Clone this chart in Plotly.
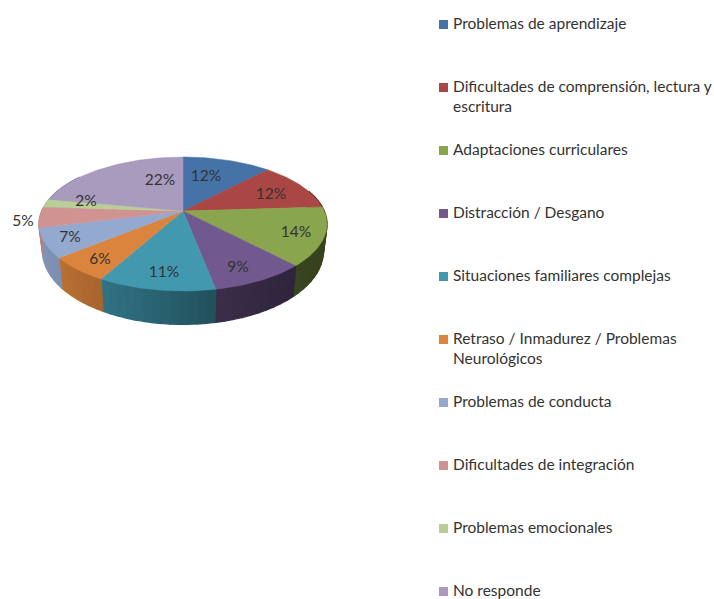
import math
import plotly.graph_objects as go

categories = ["Problemas de aprendizaje", "Dificultades de comprensión, lectura y<br>escritura",
              "Adaptaciones curriculares", "Distracción / Desgano", "Situaciones familiares complejas",
              "Retraso / Inmadurez / Problemas<br>Neurológicos", "Problemas de conducta",
              "Dificultades de integración", "Problemas emocionales", "No responde"]
values = [12, 12, 14, 9, 11, 6, 7, 5, 2, 22]
colors = ["#4573a7", "#aa4643", "#89a54e", "#71588f", "#4198af", "#db843d", "#93a9cf", "#d19392", "#b9cd96", "#a99bbd"]
label_texts = [f"{v}%" for v in values]

# layout (pixel canvas)
W, H = 714, 599
CX, CY, RX, RY, K = 183, 211, 141.3, 64.5, 0.194
label_xy = [(206, 177), (271, 195), (296, 233), (238, 268), (164, 273), (100, 260), (70, 238), (23, 222), (86, 202), (160, 181)]
LEG_X, LEG_Y0, LEG_DY, TEXT_X = 443.5, 24.5, 63, 452.5
FONT = "Lato"
TEXT_COLOR = "#333333"


def top(frac, r=1.0):
    a = 2 * math.pi * frac
    u, v = r * math.sin(a), -r * math.cos(a)
    d = 1 - K * v
    return CX + RX * u / d, CY + RY * v / d


def bottom(frac):
    x, y = top(frac)
    v = -math.cos(2 * math.pi * frac)
    return CX + (x - CX) * 0.975, y + 26 / (1 - 0.22 * v)


def shade(color, x):
    xs = [39, 62, 101, 215, 292, 327]
    fs = [0.88, 0.84, 0.76, 0.53, 0.42, 0.40]
    f = fs[-1]
    for i in range(len(xs) - 1):
        if xs[i] <= x <= xs[i + 1]:
            f = fs[i] + (fs[i + 1] - fs[i]) * (x - xs[i]) / (xs[i + 1] - xs[i])
            break
    if x < xs[0]:
        f = fs[0]
    r, g, b = int(color[1:3], 16), int(color[3:5], 16), int(color[5:7], 16)
    return f"rgb({int(r*f)},{int(g*f)},{int(b*f)})"


fig = go.Figure()
total = sum(values)
start = 0.0
spans = []
for v in values:
    spans.append((start, start + v / total))
    start += v / total

# side walls
for (a, b), col in zip(spans, colors):
    n = max(2, int((b - a) * 120))
    for i in range(n):
        f0, f1 = a + (b - a) * i / n, a + (b - a) * (i + 1) / n
        if f0 >= 0.845 or f1 < 0.2:
            continue
        p0, p1, q1, q0 = top(f0), top(f1), bottom(f1), bottom(f0)
        c = shade(col, (p0[0] + p1[0]) / 2)
        fig.add_trace(go.Scatter(x=[p0[0], p1[0], q1[0], q0[0], p0[0]], y=[p0[1], p1[1], q1[1], q0[1], p0[1]],
                                 mode="lines", fill="toself", fillcolor=c, line=dict(color=c, width=1.3),
                                 hoverinfo="skip", showlegend=False))

# top faces
for (a, b), col, cat in zip(spans, colors, categories):
    n = max(3, int((b - a) * 360))
    pts = [top(a + (b - a) * i / n) for i in range(n + 1)]
    xs = [CX] + [p[0] for p in pts] + [CX]
    ys = [CY] + [p[1] for p in pts] + [CY]
    fig.add_trace(go.Scatter(x=xs, y=ys, mode="lines", fill="toself", fillcolor=col,
                             line=dict(color=col, width=0.5), name=cat.replace("<br>", " "),
                             hoverinfo="name", showlegend=False))

# value labels
fig.add_trace(go.Scatter(x=[p[0] for p in label_xy], y=[p[1] for p in label_xy], mode="text", text=label_texts,
                         textfont=dict(family=FONT, size=15.5, color=TEXT_COLOR), textposition="middle center",
                         hoverinfo="skip", showlegend=False))

# legend
leg_y = [LEG_Y0 + LEG_DY * i for i in range(len(categories))]
fig.add_trace(go.Scatter(x=[LEG_X] * len(categories), y=leg_y, mode="markers",
                         marker=dict(symbol="square", size=9, color=colors, line=dict(width=0)),
                         hoverinfo="skip", showlegend=False))
annotations = [dict(x=TEXT_X, y=y - 10.5, xref="x", yref="y", text=c, showarrow=False, xanchor="left", yanchor="top",
                    align="left", borderpad=0, borderwidth=0,
                    font=dict(family=FONT, size=15.5, color=TEXT_COLOR))
               for c, y in zip(categories, leg_y)]

fig.update_layout(width=W, height=H, margin=dict(l=0, r=0, t=0, b=0), paper_bgcolor="white", plot_bgcolor="white",
                  xaxis=dict(range=[0, W], visible=False, fixedrange=True),
                  yaxis=dict(range=[H, 0], visible=False, fixedrange=True),
                  showlegend=False, annotations=annotations)
fig.write_html("out.html", config={"displayModeBar": False},
               post_script="document.body.style.margin='0';document.documentElement.style.overflow='hidden';")
